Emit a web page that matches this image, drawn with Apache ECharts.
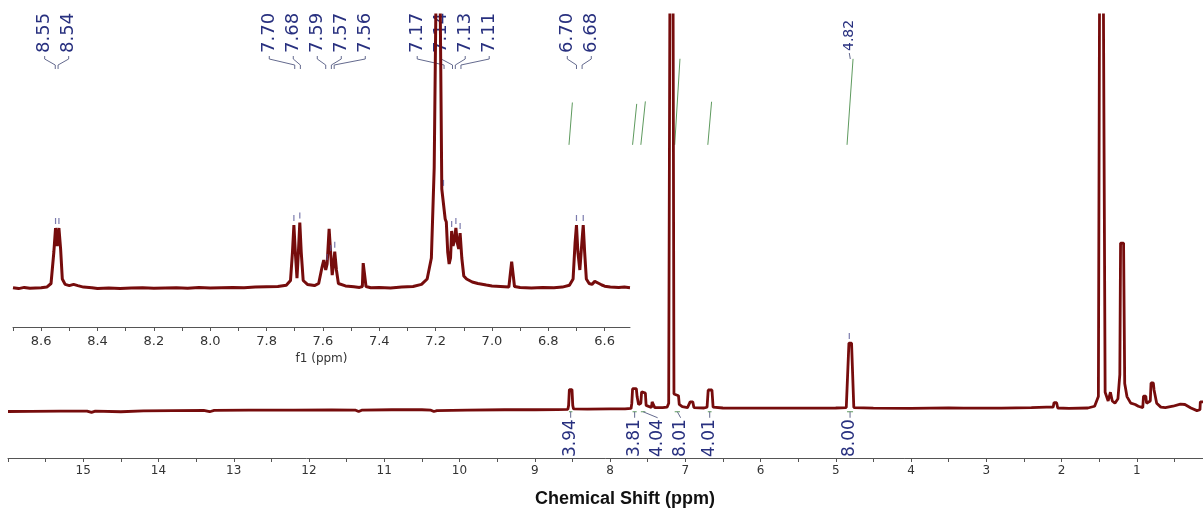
<!DOCTYPE html>
<html><head><meta charset="utf-8">
<script src="https://cdn.jsdelivr.net/npm/echarts@6/dist/echarts.min.js"></script>
<style>html,body{margin:0;padding:0;background:#fff}#c{width:1203px;height:510px}</style>
</head><body><div id="c"></div>
<script>
// ---------- DATA ----------
// main spectrum: [ppm, intensity]
const mainSpectrum = [
[16.0,-0.4],[15.7,-0.35],[15.3,-0.3],[14.95,-0.3],[14.89,-0.6],[14.84,-0.3],[14.5,-0.45],[14.2,-0.25],[13.8,-0.2],[13.4,-0.15],[13.32,-0.45],[13.26,-0.15],[12.8,-0.1],[12.2,-0.1],[11.7,-0.05],[11.38,-0.1],[11.34,-0.4],[11.3,-0.1],[10.9,0],[10.5,0],[10.38,-0.1],[10.34,-0.4],[10.3,-0.2],[9.9,-0.1],[9.4,0],[9.0,0],[8.7,0.05],[8.56,0.1],[8.55,1.0],[8.54,4.6],[8.505,4.6],[8.495,1.0],[8.485,0.2],[8.3,0.15],[8.0,0.2],[7.8,0.2],[7.72,0.3],[7.71,1.5],[7.70,4.8],[7.65,4.8],[7.64,3.0],[7.62,1.2],[7.59,1.5],[7.58,4.1],[7.53,3.8],[7.52,1.0],[7.50,0.6],[7.45,0.5],[7.44,1.8],[7.415,1.8],[7.405,0.5],[7.3,0.5],[7.24,0.6],[7.22,1.5],[7.20,120],[7.165,120],[7.15,3.6],[7.09,3.2],[7.08,1.2],[7.04,0.7],[6.97,0.5],[6.945,0.5],[6.935,1.8],[6.90,1.8],[6.885,0.5],[6.75,0.4],[6.71,0.6],[6.695,4.5],[6.645,4.5],[6.63,0.6],[6.5,0.4],[6.0,0.35],[5.5,0.35],[5.0,0.4],[4.86,0.5],[4.825,15.2],[4.79,15.2],[4.76,0.5],[4.5,0.35],[4.0,0.3],[3.5,0.45],[3.3,0.35],[2.8,0.35],[2.4,0.5],[2.2,0.6],[2.11,0.6],[2.10,1.6],[2.065,1.6],[2.05,0.4],[1.9,0.3],[1.65,0.4],[1.56,0.8],[1.51,3.0],[1.49,120],[1.45,120],[1.42,4.0],[1.38,2.0],[1.355,2.0],[1.35,4.0],[1.335,4.0],[1.325,2.0],[1.29,1.5],[1.25,2.5],[1.225,8],[1.215,38],[1.175,38],[1.16,6],[1.13,3],[1.08,1.5],[1.02,1.2],[0.98,0.8],[0.92,0.5],[0.91,3.1],[0.88,3.1],[0.87,1.5],[0.82,2.0],[0.81,6.1],[0.78,6.1],[0.77,4.5],[0.745,4.5],[0.735,1.5],[0.68,0.6],[0.62,0.5],[0.52,0.8],[0.42,1.3],[0.36,1.2],[0.28,0.4],[0.2,-0.2],[0.16,0],[0.155,1.8],[0.0,1.8]
];
// inset spectrum (8.70 - 6.51 ppm): [ppm, intensity]
const insetSpectrum = [
[8.70,0.1],[8.68,-0.2],[8.66,0.2],[8.64,-0.1],[8.62,0.0],[8.60,0.1],[8.58,0.3],[8.565,1.5],[8.555,12],[8.549,20],[8.543,14],[8.537,20],[8.531,13],[8.525,3],[8.515,1.2],[8.50,0.8],[8.485,1.2],[8.47,0.8],[8.45,0.3],[8.42,0.1],[8.40,-0.2],[8.36,0.0],[8.32,-0.2],[8.28,0.0],[8.24,0.1],[8.20,-0.1],[8.16,0.0],[8.12,0.1],[8.08,-0.1],[8.04,0.2],[8.00,0.0],[7.96,0.1],[7.92,0.2],[7.88,0.1],[7.84,0.3],[7.80,0.4],[7.76,0.5],[7.73,0.9],[7.715,2.5],[7.708,12],[7.703,21],[7.698,12],[7.692,3.3],[7.687,12],[7.682,21.8],[7.677,12],[7.67,2.5],[7.655,1.2],[7.63,0.8],[7.615,1.5],[7.603,7],[7.597,9.3],[7.59,6],[7.585,8],[7.578,19.7],[7.572,11],[7.567,4.3],[7.562,8],[7.558,12.1],[7.552,6],[7.545,1.5],[7.52,0.7],[7.49,0.4],[7.47,0.2],[7.46,0.5],[7.457,8.3],[7.451,8.3],[7.447,0.5],[7.43,0.1],[7.40,0.2],[7.36,0.0],[7.32,0.3],[7.28,0.5],[7.25,1.2],[7.23,3],[7.215,10],[7.205,40],[7.196,120],[7.186,120],[7.178,33],[7.172,32.7],[7.166,23],[7.162,22],[7.157,12],[7.152,8],[7.147,10],[7.143,19],[7.138,14],[7.133,16],[7.128,20],[7.123,15],[7.118,13],[7.113,18.3],[7.107,10],[7.10,4],[7.09,3],[7.07,2],[7.05,1.5],[7.02,1.0],[7.00,0.7],[6.97,0.5],[6.94,0.3],[6.933,0.6],[6.93,8.8],[6.924,8.8],[6.92,0.5],[6.90,0.2],[6.86,0.0],[6.82,0.2],[6.78,0.1],[6.75,0.3],[6.725,0.9],[6.712,3],[6.705,15],[6.70,21],[6.695,12],[6.688,6],[6.681,15],[6.676,21],[6.671,12],[6.665,3],[6.655,1.5],[6.645,1.2],[6.635,2.2],[6.628,2.7],[6.62,1.5],[6.61,1.0],[6.60,0.6],[6.58,0.3],[6.55,0.2],[6.53,0.3],[6.51,0.1]
];
// peak-pick labels (grouped as in the picture)
const insetPeakLabelGroups = [['8.55','8.54'],['7.70','7.68','7.59','7.57','7.56'],['7.17','7.14','7.13','7.11'],['6.70','6.68']];
const mainPeakLabels = ['4.82'];
// integrals
const integralStart = [8.545, 7.70, 7.59, 7.14, 6.70, 4.85];
const integralEnd   = [8.50, 7.645, 7.53, 7.07, 6.65, 4.77];
const integralValues = ['3.94','3.81','4.04','8.01','4.01','8.00'];
// axis ticks
const insetTickLabels = [8.6,8.4,8.2,8.0,7.8,7.6,7.4,7.2,7.0,6.8,6.6];
const insetTickMarks = [8.7,8.6,8.5,8.4,8.3,8.2,8.1,8.0,7.9,7.8,7.7,7.6,7.5,7.4,7.3,7.2,7.1,7.0,6.9,6.8,6.7,6.6];

// ---------- CHART ----------
const SPEC = '#760c0c', NAVY = '#28307f', INTEG = '#5e9a5e', LEAD = '#646a8e';
const INT_BASE = 60.4, INT_SCALE = 2.45;

const integralData = [];
integralValues.forEach((v, i) => {
  integralData.push([integralStart[i], INT_BASE]);
  integralData.push([integralEnd[i], INT_BASE + parseFloat(v) * INT_SCALE]);
  integralData.push('-');
});

function pickHeight(ppm) {
  let best = null;
  insetSpectrum.forEach(p => { if (Math.abs(p[0]-ppm) <= 0.007 && (!best || p[1] > best[1])) best = p; });
  return best;
}
const insetPicks = [];
insetPeakLabelGroups.forEach(g => g.forEach(t => insetPicks.push(pickHeight(parseFloat(t)))));
const mainPicks = mainPeakLabels.map(t => {
  const v = parseFloat(t); let best = null;
  mainSpectrum.forEach(p => { if (Math.abs(p[0]-v) <= 0.04 && (!best || p[1] > best[1])) best = p; });
  return [v, best[1]];
});

const axisCol = '#555';
const option = {
  animation: false,
  backgroundColor: '#fff',
  title: { text: 'Chemical Shift (ppm)', left: 620, top: 485, textAlign: 'center',
    textStyle: { fontFamily: 'Liberation Sans', fontWeight: 'bold', fontSize: 18, color: '#111' } },
  grid: [
    { left: 8, width: 1204, top: 15, bottom: 52, outerBoundsMode: 'none', containLabel: false },
    { left: 13, right: 573, top: 15, bottom: 183, outerBoundsMode: 'none', containLabel: false }
  ],
  xAxis: [
    { type: 'value', gridIndex: 0, inverse: true, min: 0, max: 16, interval: 1,
      axisLine: { onZero: false, lineStyle: { color: axisCol, width: 1 } },
      axisTick: { length: 4, lineStyle: { color: axisCol } },
      minorTick: { show: true, splitNumber: 2, length: 4, lineStyle: { color: axisCol } },
      splitLine: { show: false },
      axisLabel: { showMinLabel: false, showMaxLabel: false, fontSize: 12, color: '#333', margin: 7, fontFamily: 'DejaVu Sans' } },
    { type: 'value', gridIndex: 1, inverse: true, min: 6.51, max: 8.70,
      name: 'f1 (ppm)', nameLocation: 'middle', nameGap: 24,
      nameTextStyle: { fontSize: 12, color: '#333', fontFamily: 'DejaVu Sans' },
      axisLine: { onZero: false, lineStyle: { color: axisCol, width: 1 } },
      axisTick: { length: 4, customValues: insetTickMarks, lineStyle: { color: axisCol } },
      splitLine: { show: false },
      axisLabel: { customValues: insetTickLabels, formatter: v => v.toFixed(1), fontSize: 13, color: '#333', margin: 8, fontFamily: 'DejaVu Sans' } }
  ],
  yAxis: [
    { type: 'value', gridIndex: 0, min: -11, max: 90, show: false },
    { type: 'value', gridIndex: 1, min: -13, max: 91, show: false }
  ],
  series: [
    { type: 'line', name: 'integrals', xAxisIndex: 0, yAxisIndex: 0, data: integralData, showSymbol: false,
      lineStyle: { color: INTEG, width: 1 }, z: 2, silent: true },
    { type: 'line', name: 'main', xAxisIndex: 0, yAxisIndex: 0, data: mainSpectrum, showSymbol: false,
      lineStyle: { color: SPEC, width: 2.8 }, z: 3, silent: true, clip: true },
    { type: 'line', name: 'inset', xAxisIndex: 1, yAxisIndex: 1, data: insetSpectrum, showSymbol: false,
      lineStyle: { color: SPEC, width: 3 }, z: 3, silent: true, clip: true },
    { type: 'scatter', xAxisIndex: 1, yAxisIndex: 1, data: insetPicks, symbol: 'rect', symbolSize: [1.2, 6],
      symbolOffset: [0, -7], itemStyle: { color: '#5a5a98' }, z: 4, silent: true },
    { type: 'scatter', xAxisIndex: 0, yAxisIndex: 0, data: mainPicks, symbol: 'rect', symbolSize: [1.2, 6],
      symbolOffset: [0, -7], itemStyle: { color: '#5a5a98' }, z: 4, silent: true }
  ]
};

const chart = echarts.init(document.getElementById('c'));
chart.setOption(option);

// ---------- annotations (computed from the axes) ----------
const px = (ai, v) => chart.convertToPixel({ xAxisIndex: ai }, v);
const py = (ai, v) => chart.convertToPixel({ yAxisIndex: ai }, v);
const gfx = [];
const LABEL_SPACING = 24;
insetPeakLabelGroups.forEach(group => {
  const pxs = group.map(t => px(1, parseFloat(t)));
  const mean = pxs.reduce((a, b) => a + b, 0) / pxs.length;
  group.forEach((t, i) => {
    const lx = mean + (i - (group.length - 1) / 2) * LABEL_SPACING;
    gfx.push({ type: 'text', x: lx, y: 53, rotation: Math.PI / 2, z: 1,
      style: { text: t, fill: NAVY, font: '18px "DejaVu Sans"', align: 'left', verticalAlign: 'middle' } });
    gfx.push({ type: 'polyline', z: 1, shape: { points: [[lx, 56], [lx, 59], [pxs[i], 65], [pxs[i], 69]] },
      style: { stroke: LEAD, lineWidth: 1, fill: 'none' } });
  });
});
mainPeakLabels.forEach(t => {
  const lx = px(0, parseFloat(t));
  gfx.push({ type: 'text', x: lx, y: 51, rotation: Math.PI / 2, z: 1,
    style: { text: t, fill: NAVY, font: '14px "DejaVu Sans"', align: 'left', verticalAlign: 'middle' } });
  gfx.push({ type: 'polyline', z: 1, shape: { points: [[lx, 53], [lx + 1, 59]] },
    style: { stroke: LEAD, lineWidth: 1, fill: 'none' } });
});
// integral labels below the baseline
const baseY = py(0, 0);
let prevX = -1e9;
integralValues.forEach((v, i) => {
  const cx = (px(0, integralStart[i]) + px(0, integralEnd[i])) / 2;
  const lx = Math.max(cx, prevX + 23);
  prevX = lx;
  gfx.push({ type: 'polyline', z: 1, shape: { points: [[px(0, integralStart[i]), baseY + 2], [px(0, integralEnd[i]), baseY + 2]] },
    style: { stroke: INTEG, lineWidth: 1, fill: 'none' } });
  gfx.push({ type: 'polyline', z: 1, shape: { points: [[cx, baseY + 2], [lx, baseY + 8]] },
    style: { stroke: LEAD, lineWidth: 1, fill: 'none' } });
  gfx.push({ type: 'text', x: lx, y: 457, rotation: Math.PI / 2, z: 1,
    style: { text: v, fill: NAVY, font: '17px "DejaVu Sans"', align: 'left', verticalAlign: 'middle' } });
});
chart.setOption({ graphic: { elements: gfx } });
</script>
</body></html>
